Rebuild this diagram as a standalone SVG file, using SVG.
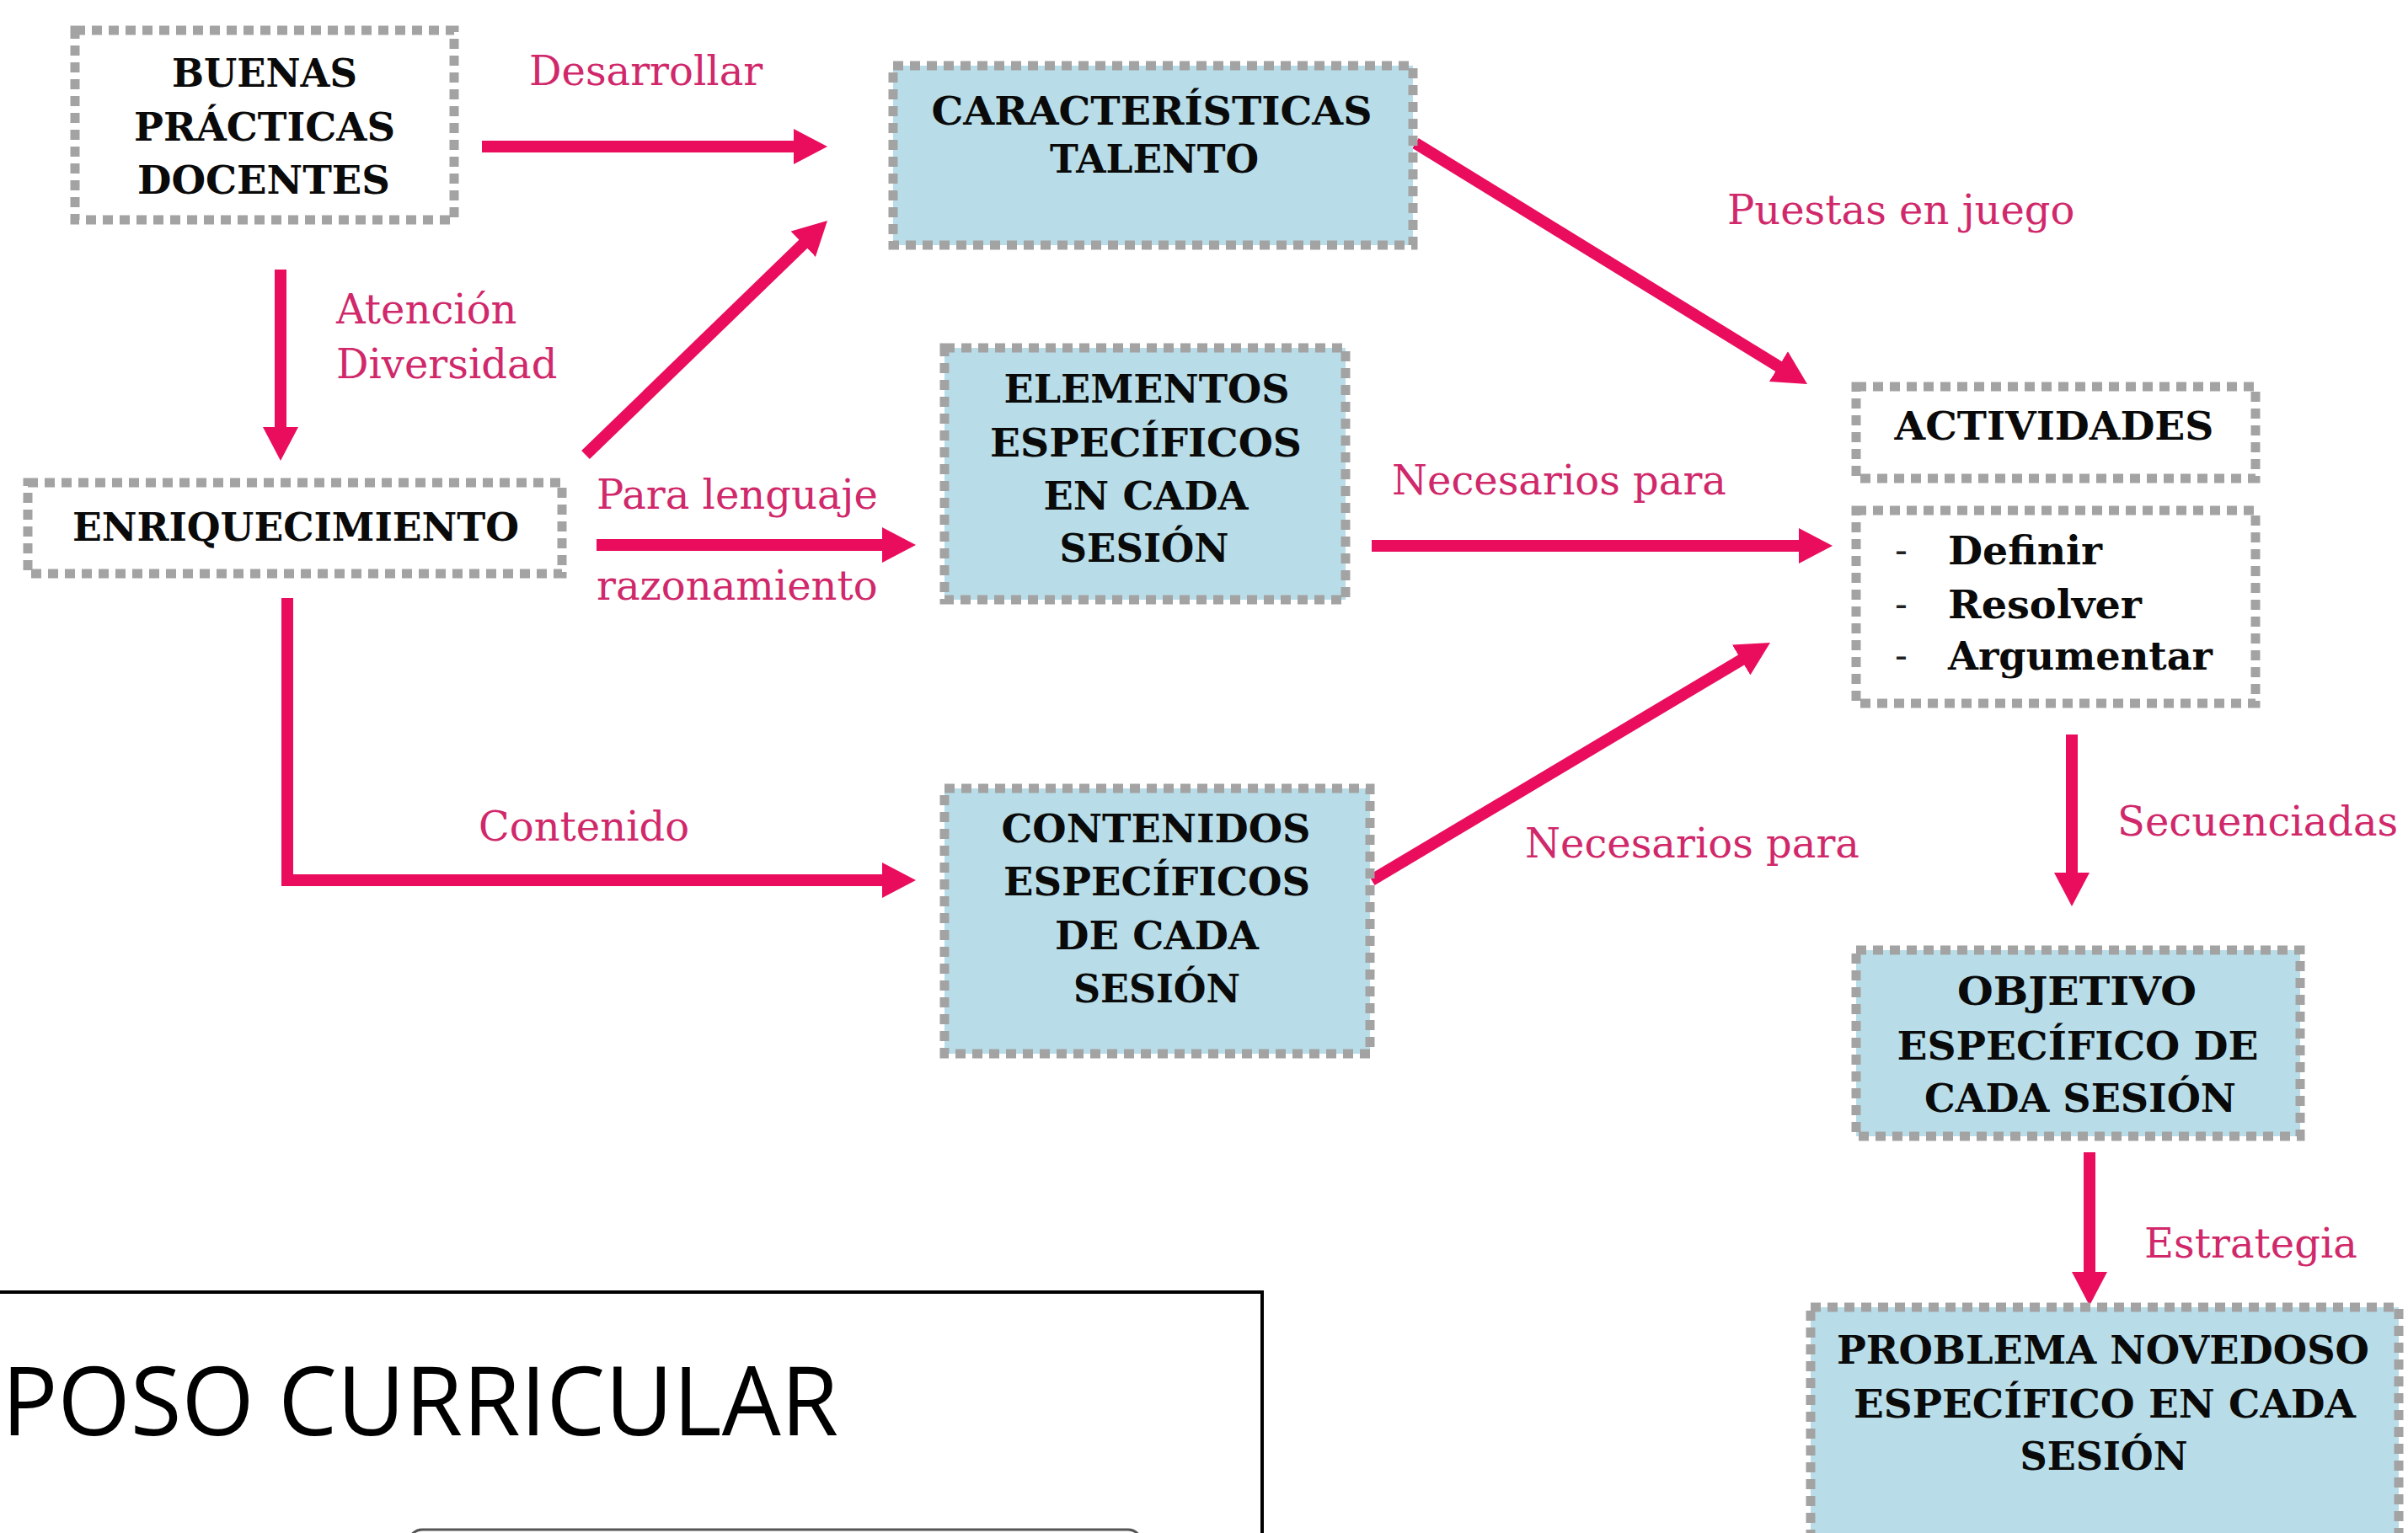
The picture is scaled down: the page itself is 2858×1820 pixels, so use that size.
<svg xmlns="http://www.w3.org/2000/svg" width="2858" height="1820" viewBox="0 0 2858 1820">
<defs>
<style>
.box{stroke:#a3a3a3;stroke-width:11;stroke-dasharray:12 8;}
.white{fill:#ffffff;}
.blue{fill:#b8dde8;}
.nt{font-family:"DejaVu Serif","Liberation Serif",serif;font-weight:bold;font-size:47px;fill:#0a0a0a;text-anchor:middle;}
.lt{font-family:"DejaVu Serif","Liberation Serif",serif;font-weight:bold;font-size:47px;fill:#0a0a0a;}
.dash{font-family:"DejaVu Serif",serif;font-size:44px;fill:#222;}
.lbl{font-family:"DejaVu Serif","Liberation Serif",serif;font-size:48px;fill:#d0286a;}
.conn{stroke:#ea0d5d;stroke-width:14;fill:none;stroke-linejoin:miter;}
</style>
<marker id="ah" viewBox="0 0 40 42" markerWidth="40" markerHeight="42" refX="20" refY="21" orient="auto" markerUnits="userSpaceOnUse">
<path d="M0,0 L40,21 L0,42 z" fill="#ea0d5d"/>
</marker>
</defs>
<rect width="2858" height="1820" fill="#ffffff"/>

<g id="connectors">
<line class="conn" x1="572" y1="174" x2="962" y2="174" marker-end="url(#ah)"/>
<line class="conn" x1="333" y1="320" x2="333" y2="527" marker-end="url(#ah)"/>
<line class="conn" x1="695" y1="540" x2="967.6" y2="275.9" marker-end="url(#ah)"/>
<line class="conn" x1="708" y1="647" x2="1067" y2="647" marker-end="url(#ah)"/>
<path class="conn" d="M341,710 V1045 H1067" marker-end="url(#ah)"/>
<line class="conn" x1="1680" y1="170" x2="2128" y2="445.5" marker-end="url(#ah)"/>
<line class="conn" x1="1628" y1="648" x2="2155" y2="648" marker-end="url(#ah)"/>
<line class="conn" x1="1628" y1="1045" x2="2083.8" y2="773.2" marker-end="url(#ah)"/>
<line class="conn" x1="2459" y1="872" x2="2459" y2="1056" marker-end="url(#ah)"/>
<line class="conn" x1="2480" y1="1368" x2="2480" y2="1530" marker-end="url(#ah)"/>
</g>

<g id="labels">
<text class="lbl" x="628" y="101">Desarrollar</text>
<text class="lbl" x="399" y="384">Atención</text>
<text class="lbl" x="399" y="449">Diversidad</text>
<text class="lbl" x="708" y="604">Para lenguaje</text>
<text class="lbl" x="708" y="712">razonamiento</text>
<text class="lbl" x="568" y="998">Contenido</text>
<text class="lbl" x="1652" y="587">Necesarios para</text>
<text class="lbl" x="2050" y="266">Puestas en juego</text>
<text class="lbl" x="1810" y="1018">Necesarios para</text>
<text class="lbl" x="2513" y="992">Secuenciadas</text>
<text class="lbl" x="2545" y="1493">Estrategia</text>
</g>

<g id="node-buenas">
<rect class="box white" x="89" y="36" width="450" height="225"/>
<text class="nt" x="314" y="103" textLength="220" lengthAdjust="spacingAndGlyphs">BUENAS</text>
<text class="nt" x="314" y="167" textLength="310" lengthAdjust="spacingAndGlyphs">PRÁCTICAS</text>
<text class="nt" x="313" y="230" textLength="300" lengthAdjust="spacingAndGlyphs">DOCENTES</text>
</g>

<g id="node-caracteristicas">
<rect class="box blue" x="1060" y="78" width="617" height="213"/>
<text class="nt" x="1367" y="148" textLength="523" lengthAdjust="spacingAndGlyphs">CARACTERÍSTICAS</text>
<text class="nt" x="1370" y="205" textLength="248" lengthAdjust="spacingAndGlyphs">TALENTO</text>
</g>

<g id="node-enriquecimiento">
<rect class="box white" x="33" y="573" width="634" height="108"/>
<text class="nt" x="351" y="642" textLength="530" lengthAdjust="spacingAndGlyphs">ENRIQUECIMIENTO</text>
</g>

<g id="node-elementos">
<rect class="box blue" x="1121" y="413" width="476" height="299"/>
<text class="nt" x="1361" y="478" textLength="339" lengthAdjust="spacingAndGlyphs">ELEMENTOS</text>
<text class="nt" x="1360" y="542" textLength="370" lengthAdjust="spacingAndGlyphs">ESPECÍFICOS</text>
<text class="nt" x="1360" y="605" textLength="243" lengthAdjust="spacingAndGlyphs">EN CADA</text>
<text class="nt" x="1358" y="667" textLength="201" lengthAdjust="spacingAndGlyphs">SESIÓN</text>
</g>

<g id="node-contenidos">
<rect class="box blue" x="1121" y="936" width="505" height="315"/>
<text class="nt" x="1372" y="1000" textLength="367" lengthAdjust="spacingAndGlyphs">CONTENIDOS</text>
<text class="nt" x="1373" y="1063" textLength="364" lengthAdjust="spacingAndGlyphs">ESPECÍFICOS</text>
<text class="nt" x="1373" y="1127" textLength="242" lengthAdjust="spacingAndGlyphs">DE CADA</text>
<text class="nt" x="1373" y="1190" textLength="198" lengthAdjust="spacingAndGlyphs">SESIÓN</text>
</g>

<g id="node-actividades">
<rect class="box white" x="2203" y="459" width="474" height="109"/>
<text class="nt" x="2438" y="522" textLength="379" lengthAdjust="spacingAndGlyphs">ACTIVIDADES</text>
</g>

<g id="node-acciones">
<rect class="box white" x="2203" y="606" width="474" height="229"/>
<text class="dash" x="2249" y="668">-</text>
<text class="dash" x="2249" y="732">-</text>
<text class="dash" x="2249" y="793">-</text>
<text class="lt" x="2312" y="670" textLength="183" lengthAdjust="spacingAndGlyphs">Definir</text>
<text class="lt" x="2312" y="734" textLength="230" lengthAdjust="spacingAndGlyphs">Resolver</text>
<text class="lt" x="2312" y="795" textLength="314" lengthAdjust="spacingAndGlyphs">Argumentar</text>
</g>

<g id="node-objetivo">
<rect class="box blue" x="2203" y="1128" width="527" height="221"/>
<text class="nt" x="2465" y="1193" textLength="284" lengthAdjust="spacingAndGlyphs">OBJETIVO</text>
<text class="nt" x="2466" y="1258" textLength="429" lengthAdjust="spacingAndGlyphs">ESPECÍFICO DE</text>
<text class="nt" x="2469" y="1320" textLength="370" lengthAdjust="spacingAndGlyphs">CADA SESIÓN</text>
</g>

<g id="node-problema">
<rect class="box blue" x="2149" y="1552" width="698" height="300"/>
<text class="nt" x="2496" y="1619" textLength="632" lengthAdjust="spacingAndGlyphs">PROBLEMA NOVEDOSO</text>
<text class="nt" x="2498" y="1683" textLength="596" lengthAdjust="spacingAndGlyphs">ESPECÍFICO EN CADA</text>
<text class="nt" x="2497" y="1745" textLength="199" lengthAdjust="spacingAndGlyphs">SESIÓN</text>
</g>

<g id="title-box">
<rect x="-10" y="1534" width="1508" height="320" fill="none" stroke="#000000" stroke-width="4"/>
<text x="2" y="1704" font-family="'Open Sans','Liberation Sans',sans-serif" font-size="114" fill="#000000" textLength="993" lengthAdjust="spacingAndGlyphs">POSO CURRICULAR</text>
<rect x="485" y="1816" width="870" height="60" rx="16" fill="none" stroke="#555555" stroke-width="3"/>
</g>
</svg>
